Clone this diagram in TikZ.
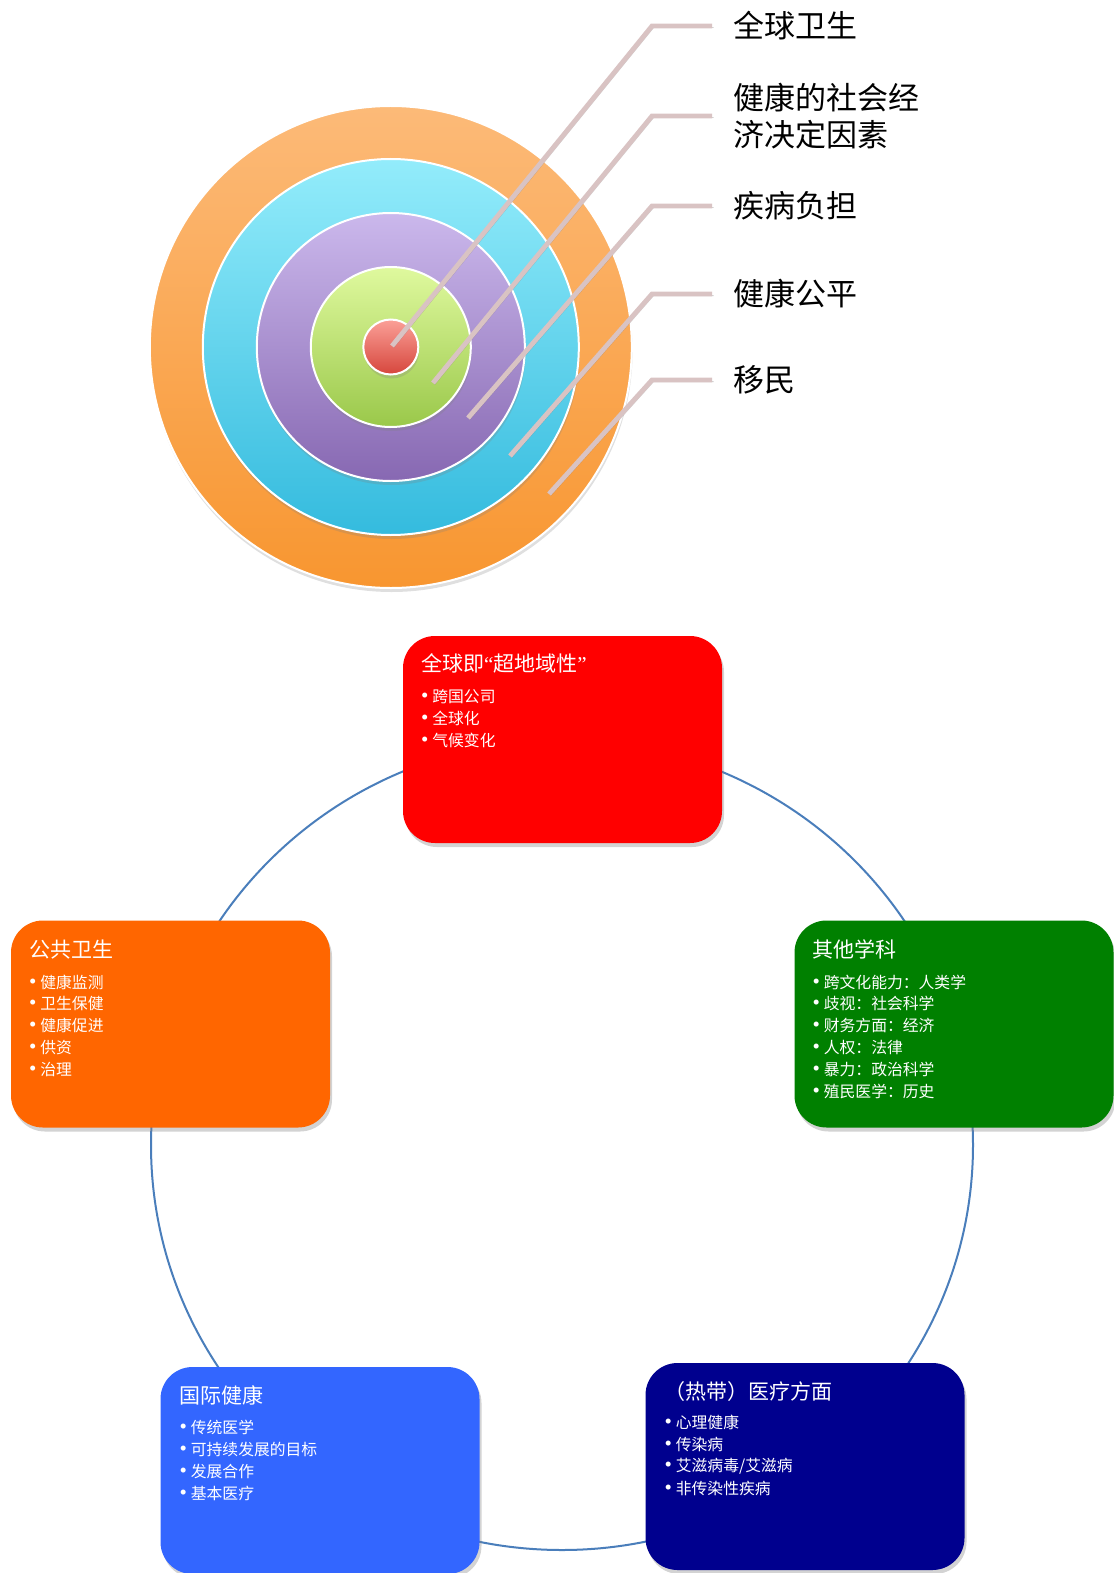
\documentclass[tikz,border=0pt]{standalone}
\usepackage{fontspec}
\setmainfont{Noto Sans CJK SC}
\newfontfamily\latinfont{Liberation Serif}
\usepackage{tikz}
\usetikzlibrary{shadows}
\usetikzlibrary{calc}

\definecolor{orangetop}{RGB}{252,186,120}
\definecolor{orangebot}{RGB}{248,150,48}
\definecolor{cyantop}{RGB}{147,236,251}
\definecolor{cyanbot}{RGB}{52,187,222}
\definecolor{purpletop}{RGB}{203,184,236}
\definecolor{purplebot}{RGB}{135,104,178}
\definecolor{greentop}{RGB}{223,249,158}
\definecolor{greenbot}{RGB}{154,200,74}
\definecolor{redtop}{RGB}{251,160,152}
\definecolor{redbot}{RGB}{214,70,60}
\definecolor{calloutpink}{RGB}{217,195,195}
\definecolor{cycleblue}{RGB}{74,126,187}
\definecolor{boxred}{RGB}{255,0,0}
\definecolor{boxorange}{RGB}{255,102,0}
\definecolor{boxgreen}{RGB}{0,128,0}
\definecolor{boxblue}{RGB}{51,102,255}
\definecolor{boxnavy}{RGB}{0,0,142}

\newcommand{\bul}{{\latinfont\fontsize{10.5}{9}\selectfont\char"2022}\hspace{2pt}}

\tikzset{
  ring/.style={draw=white, line width=1pt,
    drop shadow={opacity=.25, shadow xshift=.4pt, shadow yshift=-2pt}},
  callout/.style={draw=calloutpink, line width=2.4pt,
    preaction={draw=black!60, opacity=.3, transform canvas={shift={(.8pt,-.8pt)}}}},
  bigtext/.style={anchor=west, inner sep=0pt, align=left,
    font=\fontsize{15.5}{18.5}\selectfont},
  panel/.style={rounded corners=16pt, minimum width=159.5pt, minimum height=103.5pt,
    inner sep=0pt, drop shadow={opacity=.35, shadow xshift=1pt, shadow yshift=-2pt}},
  ptitle/.style={anchor=west, inner sep=0pt, text=white,
    font=\fontsize{10.5}{12}\selectfont},
  pitem/.style={anchor=west, inner sep=0pt, text=white,
    font=\fontsize{7.9}{9}\selectfont}
}

\begin{document}
\begin{tikzpicture}[x=0.5pt, y=-0.5pt]
  \useasboundingbox (0,0) rectangle (1113,1573);

  % target
  \coordinate (bull) at (390.8,347);
  \path[ring, top color=orangetop, bottom color=orangebot] (bull) circle (241);
  \path[ring, top color=cyantop, bottom color=cyanbot] (bull) circle (188);
  \path[ring, top color=purpletop, bottom color=purplebot] (bull) circle (134);
  \path[ring, top color=greentop, bottom color=greenbot] (bull) circle (80);
  \path[ring, top color=redtop, bottom color=redbot] (bull) circle (27.5);

  \node[bigtext] (lbl-global) at (733,26) {全球卫生};
  \node[bigtext] (lbl-social) at (733,116) {健康的社会经\\济决定因素};
  \node[bigtext] (lbl-burden) at (733,206) {疾病负担};
  \node[bigtext] (lbl-equity) at (733,294) {健康公平};
  \node[bigtext] (lbl-migr) at (733,380) {移民};

  \coordinate (tip-global) at (392,346);
  \coordinate (tip-social) at (433,383);
  \coordinate (tip-burden) at (468,418);
  \coordinate (tip-equity) at (510,456);
  \coordinate (tip-migr) at (549,494);

  \foreach \n in {global,social,burden,equity,migr}
    \draw[callout] (tip-\n) -- ([xshift=-40.5pt]lbl-\n.west) -- ([xshift=-10.5pt]lbl-\n.west);

  % cycle
  \coordinate (hub) at (562,1145);
  \draw[cycleblue, line width=1pt] (hub) ellipse [x radius=411, y radius=405];

  \node[panel, fill=boxred] (glob) at (562.5,739.5) {};
  \node[panel, fill=boxorange] (pub) at (170.5,1024) {};
  \node[panel, fill=boxgreen] (disc) at (954,1024) {};
  \node[panel, fill=boxblue] (intl) at (320,1470.5) {};
  \node[panel, fill=boxnavy] (med) at (805,1466.5) {};

  \node[ptitle] (glob-t) at ($(glob.north west)+(18,28)$) {全球即{\latinfont “}超地域性{\latinfont ”}};
  \foreach \t [count=\i] in {跨国公司,全球化,气候变化}
    \node[pitem] (glob-\i) at ($(glob.north west)+(18,{39.5+21.8*\i})$) {\bul\t};

  \node[ptitle] (pub-t) at ($(pub.north west)+(18,29)$) {公共卫生};
  \foreach \t [count=\i] in {健康监测,卫生保健,健康促进,供资,治理}
    \node[pitem] (pub-\i) at ($(pub.north west)+(18,{40.2+21.8*\i})$) {\bul\t};

  \node[ptitle] (disc-t) at ($(disc.north west)+(18,29)$) {其他学科};
  \foreach \t [count=\i] in {跨文化能力：人类学,歧视：社会科学,财务方面：经济,人权：法律,暴力：政治科学,殖民医学：历史}
    \node[pitem] (disc-\i) at ($(disc.north west)+(18,{40.2+21.8*\i})$) {\bul\t};

  \node[ptitle] (intl-t) at ($(intl.north west)+(19,29)$) {国际健康};
  \foreach \t [count=\i] in {传统医学,可持续发展的目标,发展合作,基本医疗}
    \node[pitem] (intl-\i) at ($(intl.north west)+(19,{39.2+21.8*\i})$) {\bul\t};

  \node[ptitle] (med-t) at ($(med.north west)+(19,29)$) {（热带）医疗方面};
  \foreach \t [count=\i] in {心理健康,传染病,艾滋病毒/艾滋病,非传染性疾病}
    \node[pitem] (med-\i) at ($(med.north west)+(19,{38.2+21.8*\i})$) {\bul\t};
\end{tikzpicture}
\end{document}
